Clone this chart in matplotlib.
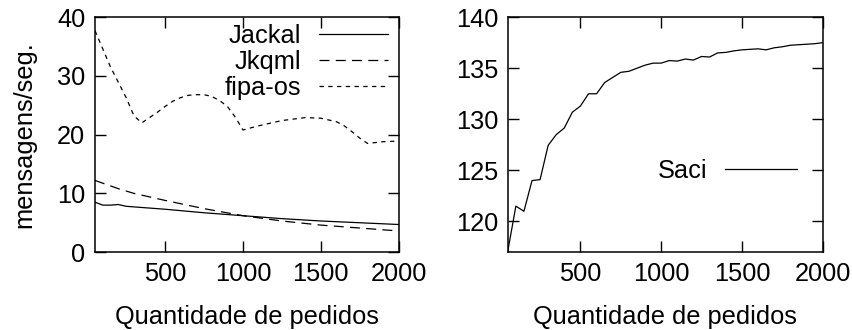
import matplotlib
matplotlib.use("Agg")
import matplotlib.pyplot as plt

plt.rcParams['font.family'] = ['Liberation Sans', 'DejaVu Sans']

# left panel
jackal_x = [50, 100, 150, 200, 250, 500, 750, 1000, 1250, 1500, 1750, 2000]
jackal_y = [8.5, 8.0, 8.0, 8.1, 7.8, 7.3, 6.7, 6.2, 5.7, 5.3, 5.0, 4.7]

jkqml_x = [50, 200, 300, 500, 750, 1000, 1250, 1500, 1750, 2000]
jkqml_y = [12.2, 10.8, 10.0, 8.8, 7.4, 6.2, 5.3, 4.6, 4.1, 3.6]

fipa_x = [50, 150, 250, 300, 350, 450, 500, 550, 600, 650, 700, 750, 800, 850,
          900, 950, 1000, 1100, 1250, 1400, 1500, 1600, 1650, 1700, 1750, 1800,
          1900, 2000]
fipa_y = [37.7, 31.5, 26.3, 23.2, 22.0, 23.8, 24.8, 25.7, 26.3, 26.7, 26.8, 26.8,
          26.5, 25.8, 24.8, 23.0, 20.8, 21.5, 22.4, 22.9, 22.8, 22.2, 21.5, 20.5,
          19.4, 18.5, 18.8, 18.9]

# right panel
saci_x = list(range(50, 2001, 50))
saci_y = [117.1, 121.5, 121.0, 124.0, 124.1, 127.45, 128.5, 129.15, 130.7, 131.3,
          132.5, 132.5, 133.6, 134.1, 134.6, 134.7, 135.0, 135.3, 135.5, 135.5,
          135.75, 135.7, 135.9, 135.8, 136.15, 136.1, 136.5, 136.55, 136.7, 136.8,
          136.85, 136.9, 136.8, 137.0, 137.1, 137.25, 137.3, 137.35, 137.4, 137.5]

xticks = [500, 1000, 1500, 2000]
fs = 18.3

fig = plt.figure(figsize=(8.52, 3.30), dpi=100)
ax1 = fig.add_axes([0.1115, 0.236, 0.3565, 0.712])
ax2 = fig.add_axes([0.596, 0.236, 0.3695, 0.712])

ax1.plot(jackal_x, jackal_y, color='black', lw=0.9, label='Jackal')
ax1.plot(jkqml_x, jkqml_y, color='black', lw=0.9, dashes=(8, 5), label='Jkqml')
ax1.plot(fipa_x, fipa_y, color='black', lw=0.9, dashes=(3.5, 3.5), label='fipa-os')
ax1.set_xlim(50, 2000)
ax1.set_ylim(0, 40)
ax1.set_yticks([0, 10, 20, 30, 40])
ax1.set_ylabel('mensagens/seg.', fontsize=fs, labelpad=15)
ax1.legend(loc='upper right', bbox_to_anchor=(0.985, 1.0), frameon=False,
           markerfirst=False, fontsize=fs, handlelength=2.7, handletextpad=0.7,
           labelspacing=0.08, borderaxespad=0.1, borderpad=0.15)

ax2.plot(saci_x, saci_y, color='black', lw=0.9, label='Saci')
ax2.set_xlim(50, 2000)
ax2.set_ylim(117, 140)
ax2.set_yticks([120, 125, 130, 135, 140])
ax2.legend(loc='center right', bbox_to_anchor=(0.99, 0.345), frameon=False,
           markerfirst=False, fontsize=fs, handlelength=2.8, handletextpad=0.7)

for ax in (ax1, ax2):
    ax.set_xticks(xticks)
    ax.set_xlabel('Quantidade de pedidos', fontsize=fs, labelpad=14)
    ax.tick_params(direction='in', length=8, width=1, top=True, right=True,
                   labelsize=fs, pad=7)
    for s in ax.spines.values():
        s.set_linewidth(1.1)

fig.savefig('out.png', dpi=100)
